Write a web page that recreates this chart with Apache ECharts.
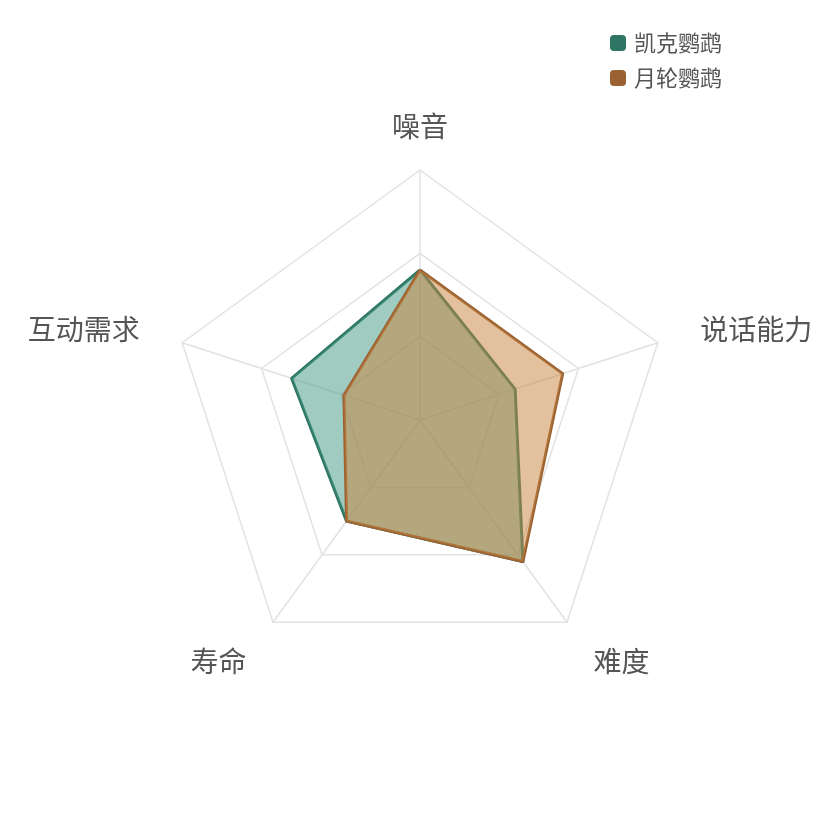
<!DOCTYPE html>
<html>
<head>
<meta charset="utf-8">
<script src="https://cdn.jsdelivr.net/npm/echarts@6/dist/echarts.min.js"></script>
<style>
  html, body { margin: 0; padding: 0; background: #fff; }
  #main { width: 840px; height: 840px; }
</style>
</head>
<body>
<div id="main"></div>
<script>
// 指标与数据（顺时针顺序：噪音 → 说话能力 → 难度 → 寿命 → 互动需求）
var indicators = ['噪音', '说话能力', '难度', '寿命', '互动需求'];
var maxValue = 10;
var seriesNames = ['凯克鹦鹉', '月轮鹦鹉'];
var kaikeValues = [6, 4, 7, 5, 5.4];
var yuelunValues = [6, 6, 7, 5, 3.2];

var lineColors = ['#2e7563', '#9a6233'];
var areaColors = ['#3f9781', '#c9833d'];

// echarts 的雷达图按逆时针排列指标，这里把顺序翻过来
function ccw(arr) {
  return [arr[0]].concat(arr.slice(1).reverse());
}

// 每个位置的标签微调
var nameRich = {
  top: { fontSize: 28, color: '#555' },
  right: { fontSize: 28, color: '#555', padding: [0, 0, 9, 14] },
  left: { fontSize: 28, color: '#555', padding: [0, 14, 9, 0] },
  br: { fontSize: 28, color: '#555', padding: [30, 0, 0, 9] },
  bl: { fontSize: 28, color: '#555', padding: [30, 9, 0, 0] }
};
var namePos = { '噪音': 'top', '说话能力': 'right', '难度': 'br', '寿命': 'bl', '互动需求': 'left' };

var chart = echarts.init(document.getElementById('main'));

var option = {
  animation: false,
  textStyle: { fontFamily: 'Noto Sans CJK SC' },
  legend: {
    orient: 'vertical',
    left: 605,
    top: 27,
    itemWidth: 16,
    itemHeight: 16,
    itemGap: 13,
    icon: 'roundRect',
    textStyle: { fontSize: 22, color: '#555', padding: [0, 0, 0, 3] },
    data: seriesNames
  },
  radar: {
    center: [420, 420],
    radius: 250,
    startAngle: 90,
    splitNumber: 3,
    shape: 'polygon',
    nameGap: 30,
    axisName: {
      color: '#555',
      fontSize: 28,
      rich: nameRich,
      formatter: function (name) {
        return '{' + namePos[name] + '|' + name + '}';
      }
    },
    indicator: ccw(indicators).map(function (n) { return { name: n, max: maxValue }; }),
    splitLine: { lineStyle: { color: '#e2e2e2', width: 1.5 } },
    splitArea: { show: false },
    axisLine: { lineStyle: { color: '#e2e2e2', width: 1.5 } }
  },
  series: [{
    type: 'radar',
    symbol: 'none',
    data: [
      {
        name: seriesNames[0],
        value: ccw(kaikeValues),
        itemStyle: { color: lineColors[0] },
        lineStyle: { color: lineColors[0], width: 3 },
        areaStyle: { color: areaColors[0], opacity: 0.5 }
      },
      {
        name: seriesNames[1],
        value: ccw(yuelunValues),
        itemStyle: { color: lineColors[1] },
        lineStyle: { color: lineColors[1], width: 3 },
        areaStyle: { color: areaColors[1], opacity: 0.5 }
      }
    ]
  }]
};

chart.setOption(option);
</script>
</body>
</html>
